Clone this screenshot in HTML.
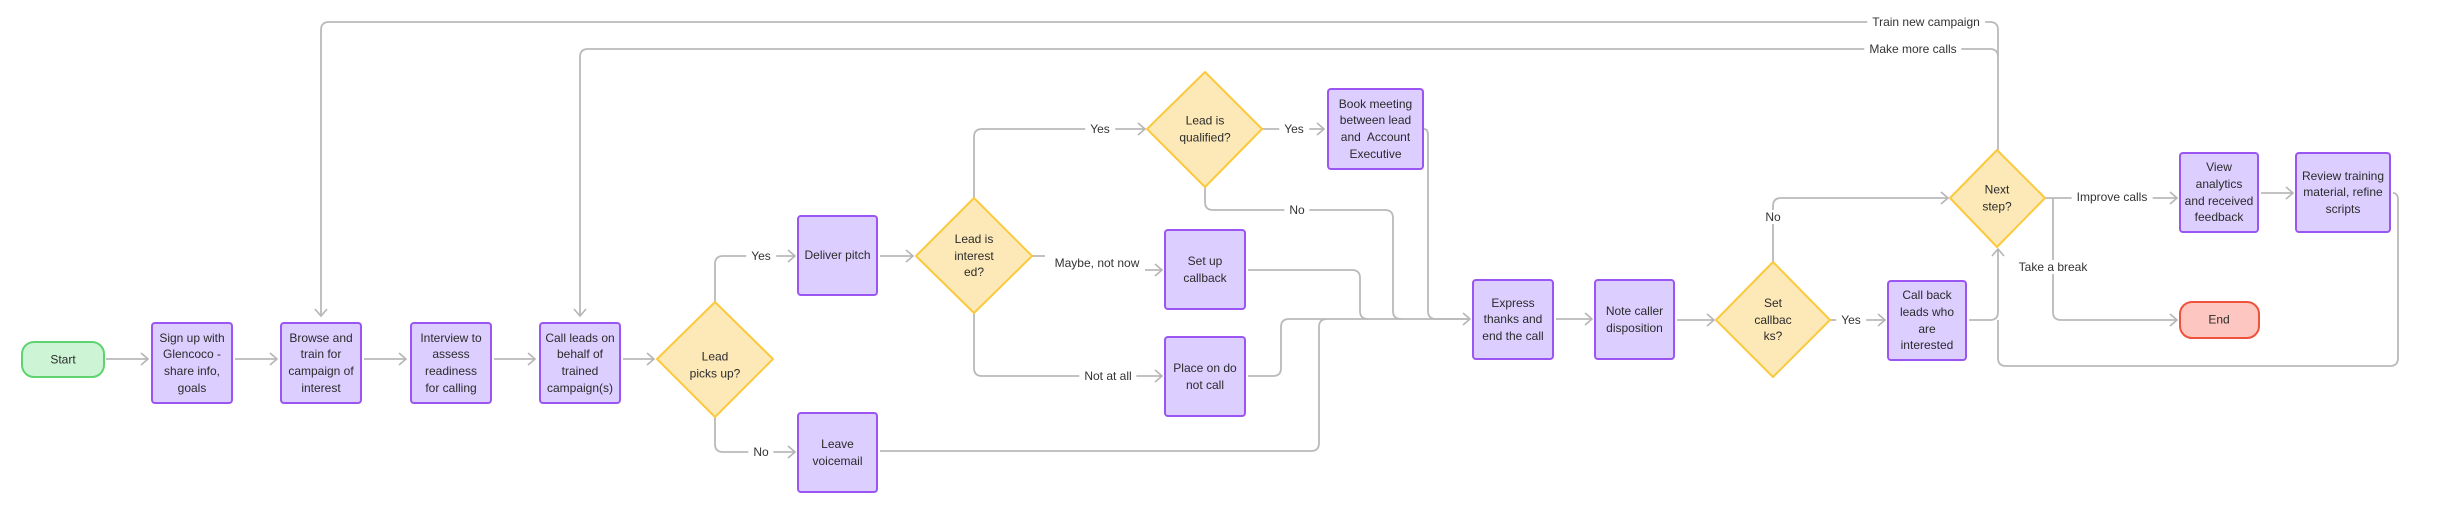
<!DOCTYPE html>
<html><head><meta charset="utf-8"><style>
body{margin:0;width:2448px;height:518px;background:#fff;position:relative;overflow:hidden;font-family:"Liberation Sans",sans-serif;color:#2b2b2b}
.b{position:absolute;box-sizing:border-box;background:#dccfff;border:2px solid #9a55f3;border-radius:4px;display:flex;align-items:center;justify-content:center;text-align:center;font-size:12px;line-height:16.6px;padding:0;white-space:nowrap}
.t{position:absolute;transform:translate(-50%,-50%);text-align:center;font-size:12px;line-height:16.6px;white-space:nowrap}
.l{position:absolute;transform:translate(-50%,-50%);background:#fff;padding:0 5px;font-size:12px;white-space:nowrap;color:#333}
</style></head><body>
<svg width="2448" height="518" style="position:absolute;left:0;top:0">
<defs><marker id="a" markerWidth="12" markerHeight="14" refX="10" refY="7" orient="auto" markerUnits="userSpaceOnUse"><polyline points="3,1 10,7 3,13" fill="none" stroke="#b5b5b5" stroke-width="1.6"/></marker></defs>
<g fill="none" stroke="#bababa" stroke-width="1.8">
<path d="M106 359H148" marker-end="url(#a)"/>
<path d="M235 359H277" marker-end="url(#a)"/>
<path d="M364 359H406" marker-end="url(#a)"/>
<path d="M494 359H535" marker-end="url(#a)"/>
<path d="M623 359H654" marker-end="url(#a)"/>
<path d="M715 302V264Q715 256 723 256H795" marker-end="url(#a)"/>
<path d="M715 417V444Q715 452 723 452H795" marker-end="url(#a)"/>
<path d="M880 256H913" marker-end="url(#a)"/>
<path d="M974 198V137Q974 129 982 129H1145" marker-end="url(#a)"/>
<path d="M1262 129H1324" marker-end="url(#a)"/>
<path d="M1032 256H1045"/>
<path d="M1145 270H1162" marker-end="url(#a)"/>
<path d="M974 313V368Q974 376 982 376H1162" marker-end="url(#a)"/>
<path d="M1205 187V202Q1205 210 1213 210H1385Q1393 210 1393 218V311Q1393 319 1401 319"/>
<path d="M1424 129Q1428 129 1428 135V311Q1428 319 1436 319H1470" marker-end="url(#a)"/>
<path d="M1248 270H1352Q1360 270 1360 278V311Q1360 319 1368 319"/>
<path d="M1248 376H1273Q1281 376 1281 368V327Q1281 319 1289 319H1470"/>
<path d="M880 451H1311Q1319 451 1319 443V327Q1319 319 1327 319"/>
<path d="M1556 319H1592" marker-end="url(#a)"/>
<path d="M1677 320H1714" marker-end="url(#a)"/>
<path d="M1830 320H1885" marker-end="url(#a)"/>
<path d="M1773 262V206Q1773 198 1781 198H1948" marker-end="url(#a)"/>
<path d="M1969 320H1990Q1998 320 1998 312V249" marker-end="url(#a)"/>
<path d="M1998 150V30Q1998 22 1990 22H329Q321 22 321 30V316" marker-end="url(#a)"/>
<path d="M1998 57Q1998 49 1990 49H588Q580 49 580 57V316" marker-end="url(#a)"/>
<path d="M2045 198H2177" marker-end="url(#a)"/>
<path d="M2053 198V312Q2053 320 2061 320H2177" marker-end="url(#a)"/>
<path d="M2261 193H2293" marker-end="url(#a)"/>
<path d="M2393 193Q2398 193 2398 200V358Q2398 366 2390 366H2006Q1998 366 1998 358V320"/>
</g>
<g stroke="#fbc93d" stroke-width="2" fill="#fde9b8" stroke-linejoin="round">
<polygon points="715,302 773,359 715,417 657,359"/>
<polygon points="974,198 1032,256 974,313 916,256"/>
<polygon points="1205,72 1262,129 1205,187 1147,129"/>
<polygon points="1773,262 1830,320 1773,377 1716,320"/>
<polygon points="1997,150 2045,198 1997,247 1950,198"/>
</g>
<rect x="22" y="342" width="82" height="35" rx="12" fill="#cdf5d5" stroke="#5fd370" stroke-width="2"/>
<rect x="2180" y="302" width="79" height="36" rx="12" fill="#fdc6c1" stroke="#f0513d" stroke-width="2"/>
</svg>
<div class="t" style="left:63px;top:360px">Start</div>
<div class="t" style="left:2219px;top:320px">End</div>
<div class="b" style="left:151px;top:322px;width:82px;height:82px">Sign up with<br>Glencoco -<br>share info,<br>goals</div>
<div class="b" style="left:280px;top:322px;width:82px;height:82px">Browse and<br>train for<br>campaign of<br>interest</div>
<div class="b" style="left:410px;top:322px;width:82px;height:82px">Interview to<br>assess<br>readiness<br>for calling</div>
<div class="b" style="left:539px;top:322px;width:82px;height:82px">Call leads on<br>behalf of<br>trained<br>campaign(s)</div>
<div class="b" style="left:797px;top:215px;width:81px;height:81px">Deliver pitch</div>
<div class="b" style="left:797px;top:412px;width:81px;height:81px">Leave<br>voicemail</div>
<div class="b" style="left:1327px;top:88px;width:97px;height:82px">Book meeting<br>between lead<br>and&nbsp; Account<br>Executive</div>
<div class="b" style="left:1164px;top:229px;width:82px;height:81px">Set up<br>callback</div>
<div class="b" style="left:1164px;top:336px;width:82px;height:81px">Place on do<br>not call</div>
<div class="b" style="left:1472px;top:279px;width:82px;height:81px">Express<br>thanks and<br>end the call</div>
<div class="b" style="left:1594px;top:279px;width:81px;height:81px">Note caller<br>disposition</div>
<div class="b" style="left:1887px;top:280px;width:80px;height:81px">Call back<br>leads who<br>are<br>interested</div>
<div class="b" style="left:2179px;top:152px;width:80px;height:81px">View<br>analytics<br>and received<br>feedback</div>
<div class="b" style="left:2295px;top:152px;width:96px;height:81px">Review training<br>material, refine<br>scripts</div>
<div class="t" style="left:715px;top:365px">Lead<br>picks up?</div>
<div class="t" style="left:974px;top:256px">Lead is<br>interest<br>ed?</div>
<div class="t" style="left:1205px;top:129px">Lead is<br>qualified?</div>
<div class="t" style="left:1773px;top:320px">Set<br>callbac<br>ks?</div>
<div class="t" style="left:1997px;top:198px">Next<br>step?</div>
<div class="l" style="left:761px;top:256px">Yes</div>
<div class="l" style="left:761px;top:452px">No</div>
<div class="l" style="left:1100px;top:129px">Yes</div>
<div class="l" style="left:1294px;top:129px">Yes</div>
<div class="l" style="left:1097px;top:263px">Maybe, not now</div>
<div class="l" style="left:1108px;top:376px">Not at all</div>
<div class="l" style="left:1297px;top:210px">No</div>
<div class="l" style="left:1851px;top:320px">Yes</div>
<div class="l" style="left:1773px;top:217px">No</div>
<div class="l" style="left:1926px;top:22px">Train new campaign</div>
<div class="l" style="left:1913px;top:49px">Make more calls</div>
<div class="l" style="left:2112px;top:197px">Improve calls</div>
<div class="l" style="left:2053px;top:267px">Take a break</div>
</body></html>
